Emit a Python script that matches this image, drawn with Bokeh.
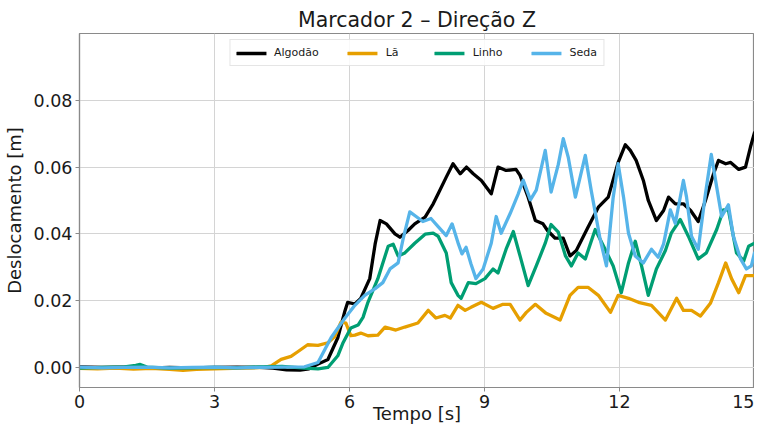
from bokeh.plotting import figure
from bokeh.models import Range1d, FixedTicker, NumeralTickFormatter, Legend, LegendItem
from bokeh.embed import file_html
from bokeh.resources import INLINE

title_text = "Marcador 2 – Direção Z"
x_label = "Tempo [s]"
y_label = "Deslocamento [m]"
x_ticks = [0, 3, 6, 9, 12, 15]
y_ticks = [0.0, 0.02, 0.04, 0.06, 0.08]
series_names = ["Algodão", "Lã", "Linho", "Seda"]
series_colors = ["#000000", "#E69F00", "#009E73", "#56B4E9"]

alg_t = [0.0, 0.5, 1.0, 1.5, 2.0, 2.5, 3.0, 3.5, 4.0, 4.3,
         4.6, 4.9, 5.1, 5.3, 5.52, 5.74, 5.9, 5.96, 6.12, 6.25,
         6.45, 6.57, 6.68, 6.82, 7.01, 7.12, 7.3, 7.45, 7.68, 7.86,
         7.97, 8.15, 8.3, 8.46, 8.6, 8.75, 8.93, 9.15, 9.3, 9.48,
         9.7, 9.79, 9.97, 10.13, 10.3, 10.4, 10.57, 10.75, 10.9, 11.04,
         11.3, 11.53, 11.75, 11.97, 12.13, 12.24, 12.37, 12.53, 12.64, 12.82,
         12.98, 13.09, 13.24, 13.42, 13.58, 13.75, 13.91, 14.09, 14.2, 14.36,
         14.47, 14.65, 14.8, 14.91, 15.0]
alg_v = [0.0002, 0.0, 0.0001, -0.0002, 0.0, -0.0001, 0.0, 0.0001, 0.0, -0.0002,
         -0.0007, -0.0008, -0.0004, 0.001, 0.0024, 0.0089, 0.017, 0.0195, 0.019, 0.0207,
         0.0266, 0.037, 0.044, 0.043, 0.040, 0.039, 0.041, 0.043, 0.045, 0.049,
         0.052, 0.057, 0.061, 0.058, 0.060, 0.058, 0.056, 0.052, 0.060, 0.059,
         0.0593, 0.0575, 0.051, 0.044, 0.043, 0.041, 0.0387, 0.0387, 0.0334, 0.035,
         0.042, 0.048, 0.051, 0.0614, 0.0667, 0.065, 0.062, 0.056, 0.050, 0.044,
         0.047, 0.051, 0.049, 0.049, 0.047, 0.0437, 0.050, 0.058, 0.062, 0.061,
         0.0614, 0.0593, 0.060, 0.066, 0.0703]

la_t = [0.0, 0.4, 0.8, 1.2, 1.6, 2.0, 2.3, 2.6, 3.0, 3.4,
        3.8, 4.1, 4.26, 4.48, 4.7, 4.85, 5.07, 5.3, 5.52, 5.67,
        5.81, 5.92, 6.03, 6.12, 6.25, 6.41, 6.63, 6.79, 7.03, 7.23,
        7.52, 7.75, 7.92, 8.12, 8.24, 8.41, 8.57, 8.7, 8.93, 9.19,
        9.41, 9.57, 9.79, 9.93, 10.13, 10.37, 10.68, 10.9, 11.08, 11.3,
        11.53, 11.8, 11.97, 12.2, 12.42, 12.71, 13.02, 13.27, 13.42, 13.6,
        13.8, 14.02, 14.2, 14.36, 14.49, 14.65, 14.8, 15.0]
la_v = [-0.0003, -0.0004, -0.0002, -0.0005, -0.0003, -0.0006, -0.0009, -0.0006, -0.0004, -0.0003,
        -0.0002, 0.0, 0.0005, 0.0024, 0.0033, 0.0047, 0.0068, 0.0066, 0.0074, 0.0092,
        0.0136, 0.0133, 0.0095, 0.0097, 0.0103, 0.0095, 0.0097, 0.0121, 0.0112, 0.0121,
        0.0133, 0.0171, 0.0148, 0.0156, 0.0148, 0.0186, 0.0171, 0.018, 0.0195, 0.0177,
        0.0189, 0.0189, 0.0142, 0.0165, 0.0189, 0.0162, 0.0142, 0.0216, 0.024, 0.024,
        0.0216, 0.0165, 0.0216, 0.0207, 0.0195, 0.0186, 0.0142, 0.0207, 0.0171, 0.0171,
        0.0154, 0.0192, 0.0254, 0.0313, 0.0266, 0.0224, 0.0275, 0.0275]

li_t = [0.0, 0.5, 1.0, 1.25, 1.35, 1.5, 2.0, 2.5, 3.0, 3.5,
        4.0, 4.5, 5.0, 5.3, 5.52, 5.74, 5.86, 6.03, 6.19, 6.3,
        6.41, 6.63, 6.86, 6.97, 7.08, 7.23, 7.45, 7.68, 7.86, 7.97,
        8.15, 8.26, 8.41, 8.48, 8.64, 8.81, 9.01, 9.19, 9.3, 9.48,
        9.64, 9.79, 9.97, 10.15, 10.35, 10.48, 10.64, 10.8, 10.93, 11.08,
        11.24, 11.46, 11.68, 11.86, 12.04, 12.2, 12.35, 12.49, 12.64, 12.82,
        13.02, 13.15, 13.35, 13.53, 13.75, 13.93, 14.16, 14.31, 14.42, 14.6,
        14.76, 14.87, 15.0]
li_v = [-0.0002, 0.0, 0.0002, 0.0006, 0.0009, 0.0001, -0.0002, -0.0001, 0.0, -0.0001,
        0.0002, 0.0003, -0.0002, -0.0004, 0.0, 0.0035, 0.0075, 0.0118, 0.0127, 0.015,
        0.0195, 0.0266, 0.0363, 0.0369, 0.0334, 0.0343, 0.0372, 0.0399, 0.0402, 0.0393,
        0.0343, 0.0254, 0.0216, 0.0207, 0.0254, 0.0251, 0.0266, 0.0295, 0.0283, 0.0354,
        0.0407, 0.0334, 0.0245, 0.0304, 0.0372, 0.0428, 0.0405, 0.0334, 0.0304, 0.0343,
        0.0325, 0.0413, 0.0354, 0.0304, 0.0224, 0.0313, 0.0378, 0.0304, 0.0216, 0.0295,
        0.035, 0.0402, 0.0443, 0.0393, 0.0325, 0.0343, 0.0413, 0.0472, 0.0472, 0.0343,
        0.0319, 0.0363, 0.0372]

se_t = [0.0, 0.5, 1.0, 1.5, 2.0, 2.5, 3.0, 3.5, 4.0, 4.5,
        5.0, 5.3, 5.59, 5.9, 6.12, 6.34, 6.57, 6.74, 6.9, 7.08,
        7.19, 7.34, 7.48, 7.63, 7.81, 7.97, 8.15, 8.28, 8.42, 8.5,
        8.59, 8.7, 8.81, 8.97, 9.15, 9.26, 9.37, 9.57, 9.75, 9.86,
        10.02, 10.15, 10.35, 10.48, 10.64, 10.75, 10.86, 11.02, 11.24, 11.37,
        11.57, 11.71, 11.86, 11.97, 12.09, 12.2, 12.35, 12.53, 12.71, 12.86,
        12.98, 13.13, 13.24, 13.42, 13.49, 13.6, 13.75, 13.91, 14.04, 14.16,
        14.27, 14.42, 14.53, 14.69, 14.82, 14.93, 15.0]
se_v = [0.0001, -0.0001, 0.0, 0.0001, -0.0001, 0.0, 0.0001, -0.0001, 0.0, 0.0001,
        0.0002, 0.0015, 0.0089, 0.0148, 0.0186, 0.0216, 0.0236, 0.0254, 0.0295, 0.0313,
        0.0384, 0.0466, 0.0452, 0.0437, 0.0446, 0.0422, 0.0395, 0.043, 0.037, 0.034,
        0.036, 0.031, 0.0266, 0.0295, 0.0372, 0.0452, 0.0402, 0.0461, 0.052, 0.0561,
        0.0502, 0.0531, 0.065, 0.0525, 0.0608, 0.0685, 0.063, 0.051, 0.0635, 0.0531,
        0.0384, 0.0304, 0.051, 0.061, 0.051, 0.0402, 0.0334, 0.0313, 0.0354, 0.033,
        0.037, 0.0472, 0.0431, 0.056, 0.051, 0.0393, 0.0354, 0.052, 0.0638, 0.054,
        0.0452, 0.0487, 0.0393, 0.0325, 0.0295, 0.0304, 0.0343]

FONT = "DejaVu Sans"

p = figure(width=754, height=426, output_backend="svg", toolbar_location=None,
           x_range=Range1d(0, 15), y_range=Range1d(-0.006, 0.1),
           title=title_text, x_axis_label=x_label, y_axis_label=y_label)
p.min_border_left = 78
p.min_border_right = 0
p.min_border_top = 33
p.min_border_bottom = 0
p.background_fill_color = "white"
p.border_fill_color = "white"
p.outline_line_color = "#8a8a8a"
p.outline_line_width = 1.2

p.title.align = "center"
p.title.text_font = FONT
p.title.text_font_size = "20.5px"
p.title.text_font_style = "normal"
p.title.text_color = "#1a1a1a"
p.title.standoff = 4

for ax in (p.xaxis[0], p.yaxis[0]):
    ax.axis_label_text_font = FONT
    ax.axis_label_text_font_size = "18px"
    ax.axis_label_text_font_style = "normal"
    ax.axis_label_text_color = "#1a1a1a"
    ax.major_label_text_font = FONT
    ax.major_label_text_font_size = "17.5px"
    ax.major_label_text_color = "#1a1a1a"
    ax.axis_line_color = "#8a8a8a"
    ax.axis_line_width = 1.2
    ax.major_tick_line_color = "#8a8a8a"
    ax.major_tick_out = 4
    ax.major_tick_in = 0
    ax.minor_tick_line_color = None

p.xaxis.ticker = FixedTicker(ticks=x_ticks)
p.yaxis.ticker = FixedTicker(ticks=y_ticks)
p.yaxis.formatter = NumeralTickFormatter(format="0.00")
p.xaxis.major_label_standoff = 3
p.xaxis.axis_label_standoff = -8
p.yaxis.major_label_standoff = 3
p.yaxis.axis_label_standoff = 6

p.xgrid.grid_line_color = "#d4d4d4"
p.ygrid.grid_line_color = "#d4d4d4"
p.xgrid.grid_line_width = 1
p.ygrid.grid_line_width = 1

data = [(alg_t, alg_v), (la_t, la_v), (li_t, li_v), (se_t, se_v)]
items = []
for (t, v), name, col in zip(data, series_names, series_colors):
    r = p.line(t, v, line_color=col, line_width=3.3, line_join="round", line_cap="round")
    items.append(LegendItem(label=name, renderers=[r]))

legend = Legend(items=items, orientation="horizontal", location="top_center")
legend.label_text_font = FONT
legend.label_text_font_size = "11px"
legend.label_text_color = "#1a1a1a"
legend.glyph_width = 30
legend.glyph_height = 12
legend.label_standoff = 8
legend.spacing = 29
legend.padding = 6
legend.margin = 6
legend.border_line_color = "#cccccc"
legend.border_line_width = 1
legend.background_fill_alpha = 0.85
p.add_layout(legend)

open("out.html", "w").write(file_html(p, INLINE))
